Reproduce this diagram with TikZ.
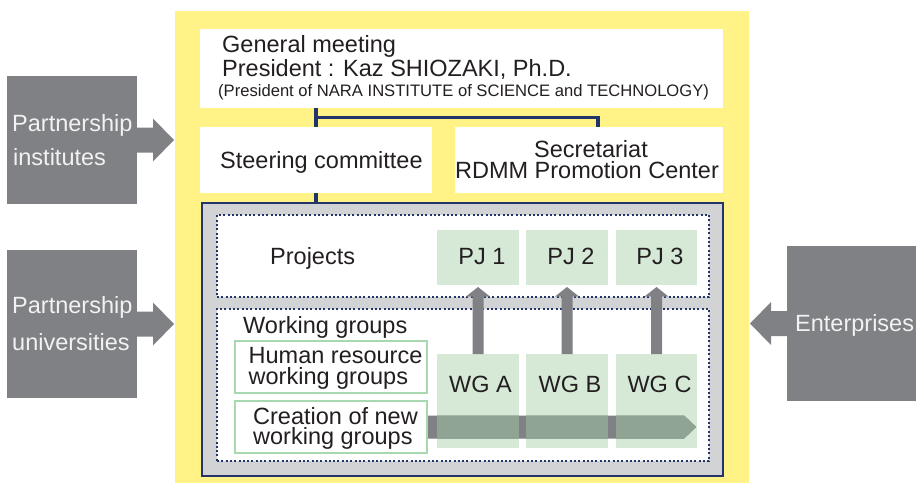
\documentclass[tikz,border=0pt]{standalone}
\usepackage{fontspec}
\setmainfont{Liberation Sans}
\usetikzlibrary{calc}
\definecolor{bgyellow}{HTML}{FFF286}
\definecolor{navy}{HTML}{22346A}
\definecolor{dgray}{HTML}{808185}
\definecolor{lgray}{HTML}{D1D3D4}
\definecolor{lgreen}{HTML}{D5E9D6}
\definecolor{bgreen}{HTML}{A8D8B0}
\definecolor{ogreen}{HTML}{8FA493}
\definecolor{wtext}{HTML}{F2F2F2}
\definecolor{ktext}{HTML}{231F20}
\newcommand\fsbig{\fontsize{23.5}{26}\selectfont}
\newcommand\fssmall{\fontsize{16.6}{19}\selectfont}
\begin{document}
\begin{tikzpicture}[x=1pt,y=-1pt,
  box/.style={anchor=north west, inner sep=0pt, outer sep=0pt},
  wbox/.style={box, fill=white},
  dbox/.style={box, fill=dgray},
  gbox/.style={box, fill=lgreen},
  hbox/.style={box, fill=white, draw=bgreen, line width=2.2pt},
  dotbox/.style={box, fill=white, draw=navy, line width=2pt, dash pattern=on 2pt off 2.3pt},
  txt/.style={anchor=base west, inner sep=0pt, font=\fsbig, text=ktext},
  ctxt/.style={txt, anchor=base},
  wtxt/.style={txt, text=wtext},
  tight/.style={text depth=0pt},
  conn/.style={draw=navy, line width=3.2pt},
]
\useasboundingbox (0,0) rectangle (916,485);

% background
\node[box, fill=bgyellow, minimum width=574pt, minimum height=472pt] (bg) at (175,11) {};

% top boxes
\node[wbox, minimum width=523pt, minimum height=79pt] (gm) at (200,29) {};
\node[wbox, minimum width=232pt, minimum height=66pt] (steer) at (200,127) {};
\node[wbox, minimum width=268pt, minimum height=66pt] (sec) at (455,127) {};

\node[txt] (gm1) at (222,52) {General meeting};
\node[txt] (gm2) at (222,76) {President : Kaz SHIOZAKI, Ph.D.};
\node[txt, font=\fssmall] (gm3) at (218,96) {(President of NARA INSTITUTE of SCIENCE and TECHNOLOGY)};
\node[txt] (steert) at (220,168) {Steering committee};
\node[ctxt, tight] (sec1) at (591,157) {Secretariat};
\node[ctxt] (sec2) at (587,178) {RDMM Promotion Center};

% group box
\node[box, fill=lgray, draw=navy, line width=2.5pt, minimum width=520.6pt, minimum height=272.6pt] (grp) at (202.2,203.2) {};

% connectors
\coordinate (j) at (598,117.5);
\draw[conn] (gm.south -| steer.north) -- (steer.north);
\draw[conn] (j -| steer.north) -- (j) -- (j |- sec.north);
\draw[conn] (steer.south) -- (steer.south |- grp.north);

% dotted areas
\node[dotbox, minimum width=492pt, minimum height=82pt] (proj) at (217,215) {};
\node[dotbox, minimum width=492pt, minimum height=152pt] (wgs) at (217,309) {};

\node[txt] (projt) at (270,264) {Projects};
\node[txt] (wgst) at (243,333) {Working groups};

% project boxes
\node[gbox, minimum width=82pt, minimum height=55pt] (pj1) at (437,230) {};
\node[gbox, minimum width=82pt, minimum height=55pt] (pj2) at (526,230) {};
\node[gbox, minimum width=81pt, minimum height=55pt] (pj3) at (616,230) {};
\node[ctxt] (pj1t) at (482,264) {PJ 1};
\node[ctxt] (pj2t) at (571,264) {PJ 2};
\node[ctxt] (pj3t) at (660,264) {PJ 3};

% working group boxes
\node[gbox, minimum width=82pt, minimum height=94pt] (wga) at (437,354) {};
\node[gbox, minimum width=82pt, minimum height=94pt] (wgb) at (526,354) {};
\node[gbox, minimum width=81pt, minimum height=94pt] (wgc) at (616,354) {};
\node[ctxt] (wgat) at (480.5,392) {WG A};
\node[ctxt] (wgbt) at (570,392) {WG B};
\node[ctxt] (wgct) at (659.5,392) {WG C};

% human resource / creation boxes
\node[hbox, minimum width=192pt, minimum height=52pt] (hr) at (235,341) {};
\node[hbox, minimum width=192pt, minimum height=52pt] (cr) at (235,401) {};
\node[txt, tight] (hr1) at (248.5,363) {Human resource};
\node[txt] (hr2) at (248.5,384) {working groups};
\node[txt, tight] (cr1) at (253,424) {Creation of new};
\node[txt] (cr2) at (253,444) {working groups};

% big horizontal arrow
\fill[dgray] (cr.east) ++(1.1,-11.5) -- ++(256,0) -- ++(12,11.5) -- ++(-12,11.5) -- ++(-256,0) -- cycle;
\begin{scope}
  \clip (cr.east) ++(1.1,-11.5) -- ++(256,0) -- ++(12,11.5) -- ++(-12,11.5) -- ++(-256,0) -- cycle;
  \fill[ogreen] (wga.north west) rectangle (wga.south east);
  \fill[ogreen] (wgb.north west) rectangle (wgb.south east);
  \fill[ogreen] (wgc.north west) rectangle (wgc.south east);
\end{scope}

% up arrows
\foreach \w in {wga,wgb,wgc}{
  \fill[dgray] (\w.north) ++(-5.5,0) -- ++(0,-57.5) -- ++(-6.5,0) -- ++(12,-9.5) -- ++(12,9.5) -- ++(-6.5,0) -- ++(0,57.5) -- cycle;
}

% side boxes
\node[dbox, minimum width=130pt, minimum height=128pt] (pi) at (7,76) {};
\node[dbox, minimum width=130pt, minimum height=148pt] (pu) at (7,250) {};
\node[dbox, minimum width=129pt, minimum height=155pt] (ent) at (787,246) {};
\node[wtxt] (pi1) at (12,131) {Partnership};
\node[wtxt] (pi2) at (13,165) {institutes};
\node[wtxt] (pu1) at (12,313) {Partnership};
\node[wtxt] (pu2) at (12,350) {universities};
\node[wtxt] (entt) at (795,331) {Enterprises};

% side arrows
\fill[dgray] (pi.east) ++(-1,-12.5) -- ++(17,0) -- ++(0,-9) -- ++(21,21.5) -- ++(-21,21.5) -- ++(0,-9) -- ++(-17,0) -- cycle;
\fill[dgray] (pu.east) ++(-1,-12.5) -- ++(17,0) -- ++(0,-9) -- ++(21,21.5) -- ++(-21,21.5) -- ++(0,-9) -- ++(-17,0) -- cycle;
\fill[dgray] (ent.west) ++(1,-12.5) -- ++(-17,0) -- ++(0,-9) -- ++(-21,21.5) -- ++(21,21.5) -- ++(0,-9) -- ++(17,0) -- cycle;
\end{tikzpicture}
\end{document}
